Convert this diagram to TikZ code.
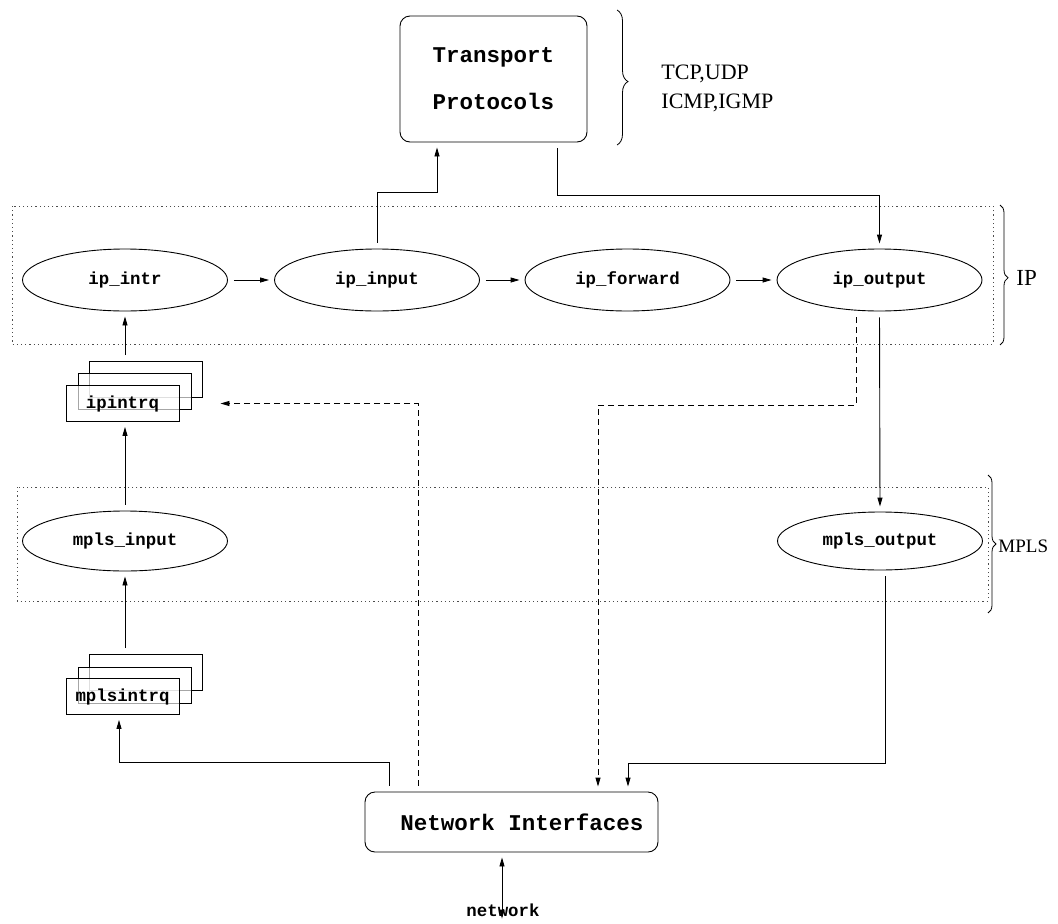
\documentclass[tikz,border=0pt]{standalone}
\usepackage{fontspec}
\setmainfont{Liberation Serif}
\setmonofont{Liberation Mono}
\usetikzlibrary{arrows.meta,decorations.pathreplacing,shapes.geometric}

\newcommand{\bigtt}{\fontsize{22.5}{47}\selectfont\ttfamily\bfseries}
\newcommand{\smalltt}{\fontsize{17.4}{20}\selectfont\ttfamily\bfseries}

\begin{document}
\begin{tikzpicture}[x=1pt,y=-1pt,line width=0.9pt,
  arr/.style={-{Triangle[length=9pt,width=5pt]},shorten <=6pt,shorten >=5pt},
  darr/.style={arr,dash pattern=on 6pt off 4pt},
  rbox/.style={draw,rectangle,rounded corners=10pt,inner sep=0pt},
  proc/.style={draw,ellipse,minimum width=205pt,minimum height=62pt,inner sep=0pt,font=\smalltt},
  qbox/.style={draw,rectangle,minimum width=113pt,minimum height=36pt,inner sep=0pt,font=\smalltt},
  qcover/.style={qbox,fill=white,fill opacity=0.65,text opacity=1},
  layer/.style={draw=black!70,line width=0.8pt,dash pattern=on 1.2pt off 3pt},
  grpbrace/.style={decorate,line width=0.8pt},
  side/.style={anchor=west,inner sep=0pt}]

\useasboundingbox (0,0) rectangle (1058,924);

% layer frames
\draw[layer] (12,206) rectangle (993,344);
\draw[layer] (17,487) rectangle (988,601);

% transport layer
\node[rbox,minimum width=187pt,minimum height=126pt,align=center,font=\bigtt] (transport) at (493.5,79) {Transport\\Protocols};
\draw[grpbrace,decoration={brace,amplitude=11pt,aspect=0.53}] (617,10) -- (617,145);
\node[side,font=\fontsize{22}{24}\selectfont] (tcp) at (661,74) {TCP,UDP};
\node[side,font=\fontsize{22}{24}\selectfont] (icmp) at (661,102.5) {ICMP,IGMP};

% IP layer
\node[proc] (ipintr) at (125,280) {ip\_intr};
\node[proc] (ipinput) at (377,280) {ip\_input};
\node[proc] (ipforward) at (627.5,280) {ip\_forward};
\node[proc] (ipoutput) at (879.5,280) {ip\_output};
\draw[grpbrace,decoration={brace,amplitude=8pt,aspect=0.52}] (1000,205) -- (1000,345);
\node[side,font=\fontsize{23}{25}\selectfont] (iplbl) at (1016,278) {IP};

% IP input queue
\node[qbox] (ipintrqc) at (146,379.5) {};
\node[qcover] (ipintrqb) at (135,391) {};
\node[qcover] (ipintrq) at (122.5,403.5) {ipintrq};

% MPLS layer
\node[proc,minimum height=60pt] (mplsinput) at (125,541) {mpls\_input};
\node[proc,minimum height=58pt] (mplsoutput) at (880,541) {mpls\_output};
\draw[grpbrace,decoration={brace,amplitude=8pt,aspect=0.5}] (988,475) -- (988,613);
\node[side,font=\fontsize{19}{21}\selectfont] (mplslbl) at (998,546) {MPLS};

% MPLS input queue
\node[qbox] (mplsintrqc) at (146,672.5) {};
\node[qcover] (mplsintrqb) at (135,685) {};
\node[qcover] (mplsintrq) at (122.5,696.5) {mplsintrq};

% interfaces
\node[rbox,minimum width=293pt,minimum height=60pt,font=\bigtt] (netif) at (511.5,822) {\hspace*{21pt}Network Interfaces};
\node[font=\smalltt,inner sep=0pt,anchor=base] (network) at (503,916) {network};

% connectors
\draw[arr] (ipintr) -- (ipinput);
\draw[arr] (ipinput) -- (ipforward);
\draw[arr] (ipforward) -- (ipoutput);
\draw[arr] (ipinput.north) -- ++(0,-56) -| ([xshift=-56.5pt]transport.south);
\draw[arr] ([xshift=63.5pt]transport.south) -- ++(0,53) -| (ipoutput.north);
\draw[arr] (ipoutput.south) -- (mplsoutput.north);
\draw[darr] ([xshift=-23.5pt]ipoutput.south) -- ++(0,94) -| ([xshift=86.5pt]netif.north);
\draw[arr] ([xshift=5pt]mplsoutput.south) -- ++(0,193) -| ([xshift=116.5pt]netif.north);
\draw[arr] ([xshift=-122.5pt]netif.north) -- ++(0,-29) -| ([xshift=-3.5pt]mplsintrq.south);
\draw[darr,shorten >=41pt] ([xshift=-93.5pt]netif.north) |- (ipintrq.east);
\draw[arr] (mplsintrqc.north -| mplsinput) -- (mplsinput.south);
\draw[arr] (mplsinput.north) -- (mplsinput.north |- ipintrq.south);
\draw[arr] (ipintrqc.north -| ipintr) -- (ipintr.south);
\draw[{Triangle[length=9pt,width=5pt]}-{Triangle[length=9pt,width=5pt]},shorten >=5pt]
  ([xshift=-1pt,yshift=-2pt]network.south) -- ([xshift=-1pt]network.south |- netif.south);
\end{tikzpicture}
\end{document}
